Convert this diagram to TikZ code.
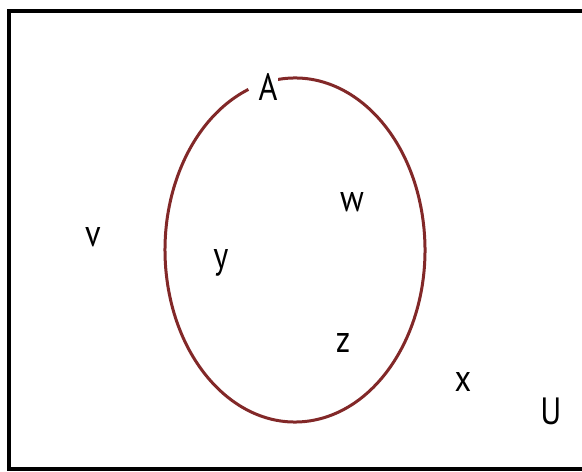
\documentclass[tikz,border=0pt]{standalone}
\usepackage{fontspec}
\setmainfont{PT Sans}
\newfontfamily\lblfont[FakeStretch=0.85]{PT Sans}
\begin{document}
\begin{tikzpicture}[x=1pt,y=1pt,
  lbl/.style={inner sep=0pt,font=\lblfont\fontsize{38}{38}\selectfont},
  setline/.style={draw={rgb,255:red,130;green,40;blue,40},line width=3pt}]
\useasboundingbox (0,0) rectangle (582,472);
\clip (0,0) rectangle (582,472);
\fill[white] (0,0) rectangle (582,472);
\draw[line width=4pt] (9,3) rectangle (600,461);
\coordinate (c) at (295,222);
\draw[setline] ([shift={(100:130 and 172)}]c) arc[start angle=100,end angle=-249,x radius=130,y radius=172];
\node[lbl,fill=white,inner sep=1pt] (A) at (268,385) {A};
\node[lbl] (w) at (352,270) {w};
\node[lbl] (v) at (93,235) {v};
\node[lbl] (y) at (221,209) {y};
\node[lbl] (z) at (343,129) {z};
\node[lbl] (x) at (463,90) {x};
\node[lbl] (U) at (551,61) {U};
\end{tikzpicture}
\end{document}
